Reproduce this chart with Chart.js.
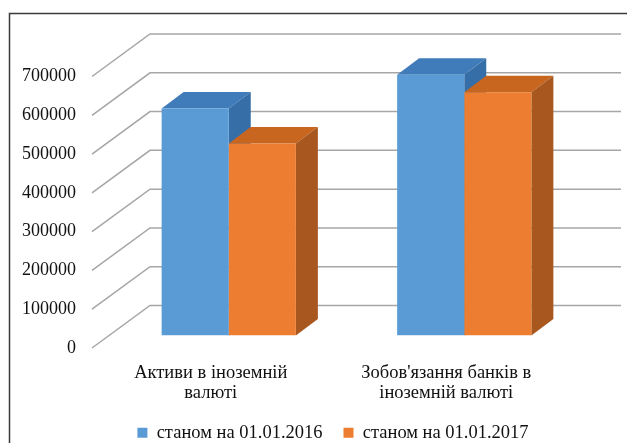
<!DOCTYPE html>
<html><head><meta charset="utf-8">
<script src="https://cdn.jsdelivr.net/npm/chart.js@4.4.1/dist/chart.umd.min.js"></script>
<style>html,body{margin:0;padding:0;background:#fff;overflow:hidden}#wrap{width:627px;height:443px;position:relative;overflow:hidden}
#probe{position:absolute;left:-9999px;top:0;font:18px "Liberation Serif";}</style>
</head><body><div id="wrap"><canvas id="c" width="627" height="443"></canvas></div><div id="probe">Активи 0123</div>
<script>
const categories = [["Активи в іноземній", "валюті"], ["Зобов'язання банків в", "іноземній валюті"]];
const seriesLabels = ["станом на 01.01.2016", "станом на 01.01.2017"];
const series2016 = [585000, 672000];
const series2017 = [495000, 627000];
const yTickValues = [0, 100000, 200000, 300000, 400000, 500000, 600000, 700000];

const FONT = "'Liberation Serif', 'DejaVu Serif', 'Times New Roman', serif";
const TEXT = '#111111';
const frontColors = ['#5B9BD5', '#ED7D31'];
const topColors = ['#407BBA', '#C8651F'];
const sideColors = ['#366FA7', '#A8571F'];
const BAR_DEPTH = {dx: 22, dy: -16.5};
const WALL = {dx: 39, dy: -30};
const FLOOR = {dx: -19, dy: 12.5};

const pseudo3d = {
  id: 'pseudo3d',
  beforeDraw(chart) {
    const ctx = chart.ctx;
    ctx.save();
    ctx.fillStyle = '#fff';
    ctx.fillRect(0, 0, chart.width, chart.height);
    ctx.strokeStyle = '#3a3a3a';
    ctx.lineWidth = 1.5;
    ctx.beginPath();
    ctx.moveTo(9.5, chart.height);
    ctx.lineTo(9.5, 13.5);
    ctx.lineTo(chart.width, 13.5);
    ctx.stroke();
    ctx.restore();
  },
  beforeDatasetsDraw(chart) {
    const {ctx, chartArea, scales} = chart;
    const y = scales.y;
    ctx.save();
    ctx.strokeStyle = '#a6a6a6';
    ctx.lineWidth = 1.5;
    y.ticks.forEach(t => {
      const py = y.getPixelForValue(t.value);
      ctx.beginPath();
      ctx.moveTo(chartArea.left + FLOOR.dx, py + FLOOR.dy);
      ctx.lineTo(chartArea.left + WALL.dx, py + WALL.dy);
      ctx.lineTo(chartArea.right + WALL.dx, py + WALL.dy);
      ctx.stroke();
    });
    chart.data.datasets.forEach((ds, i) => {
      const meta = chart.getDatasetMeta(i);
      meta.data.forEach(el => {
        const p = el.getProps(['x', 'y', 'base', 'width'], true);
        const l = p.x - p.width / 2, r = p.x + p.width / 2, t = p.y, b = p.base;
        const {dx, dy} = BAR_DEPTH;
        ctx.fillStyle = topColors[i];
        ctx.beginPath();
        ctx.moveTo(l, t); ctx.lineTo(l + dx, t + dy); ctx.lineTo(r + dx, t + dy); ctx.lineTo(r, t);
        ctx.closePath(); ctx.fill();
        ctx.fillStyle = sideColors[i];
        ctx.beginPath();
        ctx.moveTo(r, t); ctx.lineTo(r + dx, t + dy); ctx.lineTo(r + dx, b + dy); ctx.lineTo(r, b);
        ctx.closePath(); ctx.fill();
      });
    });
    ctx.restore();
  }
};

function build() {
  new Chart(document.getElementById('c'), {
    type: 'bar',
    data: {
      labels: categories,
      datasets: [
        {label: seriesLabels[0], data: series2016, backgroundColor: frontColors[0], borderWidth: 0, categoryPercentage: 0.57, barPercentage: 1.0},
        {label: seriesLabels[1], data: series2017, backgroundColor: frontColors[1], borderWidth: 0, categoryPercentage: 0.57, barPercentage: 1.0}
      ]
    },
    options: {
      responsive: false,
      animation: false,
      devicePixelRatio: 1,
      layout: {padding: {left: 0, right: -39, top: 64, bottom: -9}},
      plugins: {
        tooltip: {enabled: false},
        legend: {
          position: 'bottom',
          labels: {boxWidth: 10, boxHeight: 10, padding: 21, color: TEXT, font: {family: FONT, size: 18.5}}
        }
      },
      scales: {
        x: {
          offset: true,
          grid: {display: false},
          border: {display: false},
          ticks: {color: TEXT, font: {family: FONT, size: 18.5, lineHeight: 1.08}, padding: 20, labelOffset: -18, maxRotation: 0, autoSkip: false},
          afterFit(s) { s.height = 67; }
        },
        y: {
          min: 0, max: 700000,
          grid: {display: false, drawTicks: false},
          border: {display: false},
          ticks: {color: TEXT, font: {family: FONT, size: 18}, padding: 35, labelOffset: 12.5, callback: v => String(v)},
          afterBuildTicks(s) { s.ticks = yTickValues.map(v => ({value: v})); },
          afterFit(s) { s.width = 111; }
        },
        y2: {
          position: 'right',
          grid: {display: false, drawTicks: false},
          border: {display: false},
          ticks: {display: false},
          afterFit(s) { s.width = 84; }
        }
      }
    },
    plugins: [pseudo3d]
  });
}
const ready = (document.fonts && document.fonts.load) ? document.fonts.load("18px 'Liberation Serif'").catch(() => {}) : Promise.resolve();
ready.then(build, build);
</script>
</body></html>
